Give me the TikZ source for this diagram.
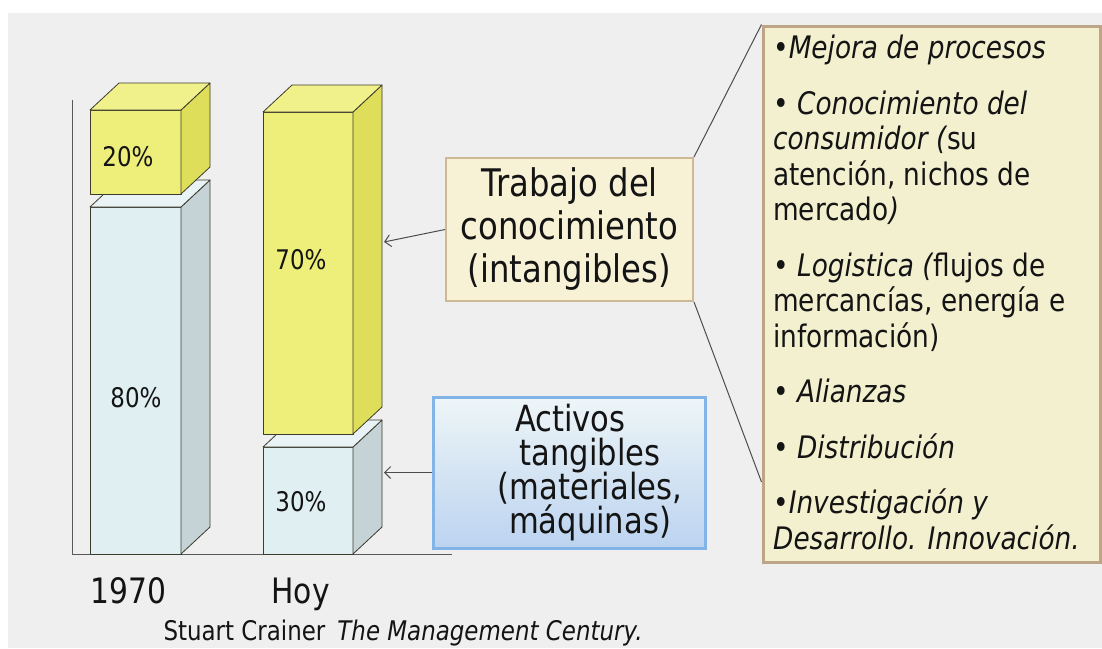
\documentclass[tikz,border=0pt]{standalone}
\usepackage{fontspec}
\setmainfont{DejaVu Sans}[FakeStretch=0.85]
\usetikzlibrary{arrows.meta}

\definecolor{fondo}{RGB}{239,239,239}
\definecolor{amF}{RGB}{238,238,122}
\definecolor{amS}{RGB}{222,222,90}
\definecolor{amT}{RGB}{241,241,140}
\definecolor{azF}{RGB}{224,240,242}
\definecolor{azS}{RGB}{197,210,214}
\definecolor{azT}{RGB}{233,243,245}
\definecolor{arista}{RGB}{60,60,45}
\definecolor{beige}{RGB}{247,241,213}
\definecolor{marron}{RGB}{205,185,150}
\definecolor{crema}{RGB}{243,240,207}
\definecolor{borde}{RGB}{190,165,135}
\definecolor{celeste}{RGB}{130,180,232}
\definecolor{tinta}{RGB}{20,20,20}

% bloque 3D: x1, x2, y arriba, y abajo, color (am/az)
\newcommand{\bloque}[5]{%
  \filldraw[cara, fill=#5F] (#1,#3) rectangle (#2,#4);
  \filldraw[cara, fill=#5S] (#2,#3) -- (#2+29,#3-27) -- (#2+29,#4-27) -- (#2,#4) -- cycle;
  \filldraw[cara, fill=#5T] (#1,#3) -- (#1+29,#3-27) -- (#2+29,#3-27) -- (#2,#3) -- cycle;
}

\begin{document}
\begin{tikzpicture}[x=1pt, y=-1pt, text=tinta,
    cara/.style={draw=arista, line width=0.8pt, line join=round},
    eje/.style={draw=black!65, line width=1pt},
    pct/.style={font=\fontsize{27}{30}\selectfont},
    anio/.style={font=\fontsize{35}{40}\selectfont, anchor=base west},
    caja/.style={draw=marron, fill=beige, line width=2pt, align=center,
        font=\fontsize{38}{43}\selectfont},
    activos/.style={draw=celeste, line width=3pt, top color=azT!80!white,
        bottom color={rgb,255:red,188;green,211;blue,240}},
    lista/.style={draw=borde, fill=crema, line width=3pt},
    linea/.style={draw=black!70, line width=1pt},
    flecha/.style={linea, ->, >={Straight Barb[length=6pt,width=12pt]}}]

    \useasboundingbox (0,0) rectangle (1102,648);
    \fill[white] (0,0) rectangle (1102,648);
    \fill[fondo] (8,13) rectangle (1102,648);

    % ejes
    \draw[eje] (72,100) -- (72,554) -- (452,554);

    % barras
    \bloque{90}{181}{207}{554}{az}
    \bloque{90}{181}{110}{194}{am}
    \bloque{263}{353}{447}{554}{az}
    \bloque{263}{353}{112}{434}{am}
    \coordinate (hoyam) at (384,242);
    \coordinate (hoyaz) at (384,472.5);

    \node[pct] (p20) at (128,157) {20\%};
    \node[pct] (p80) at (136,398) {80\%};
    \node[pct] (p70) at (301,260) {70\%};
    \node[pct] (p30) at (301,502) {30\%};

    \node[anio] (a1970) at (87,603) {1970};
    \node[anio] (ahoy) at (268,603) {Hoy};
    \node[font=\fontsize{27}{30}\selectfont, anchor=base west] (fuente) at (160,640)
        {Stuart Crainer\hspace{12pt}\textit{The Management Century.}};

    % cajas
    \node[caja, minimum width=247pt, minimum height=143pt] (trabajo) at (569.5,229.5)
        {Trabajo del\\conocimiento\\(intangibles)};
    \node[activos, minimum width=272pt, minimum height=151pt] (activos) at (569,472.5) {};
    \node[align=center, font={\fontsize{36}{34}\selectfont\lineskiplimit=-50pt}]
        (activostxt) at (590,473)
        {\makebox[150pt][l]{Activos}\\tangibles\\(materiales,\\máquinas)};

    \node[lista, minimum width=337pt, minimum height=536pt] (lista) at (931.5,294) {};
    \node[anchor=north west, align=left, inner sep=0pt,
        font={\fontsize{31}{35.5}\selectfont\lineskiplimit=-50pt}] (items) at (773,35)
        {•\textit{Mejora de procesos}\\[20pt]
         • \textit{Conocimiento del}\\
         \textit{consumidor (}su\\
         atención, nichos de\\
         mercado\textit{)}\\[20pt]
         • \textit{Logistica (}flujos de\\
         mercancías, energía e\\
         información)\\[20pt]
         • \textit{Alianzas}\\[20pt]
         • \textit{Distribución}\\[20pt]
         •\textit{Investigación y}\\
         \textit{Desarrollo. Innovación.}};

    % conectores
    \draw[linea] (trabajo.north east) -- (lista.north west);
    \draw[linea] (trabajo.south east) -- (lista.west |- 0,482);
    \draw[flecha] (trabajo.west) -- (hoyam);
    \draw[flecha] (activos.west) -- (hoyaz);
\end{tikzpicture}
\end{document}
